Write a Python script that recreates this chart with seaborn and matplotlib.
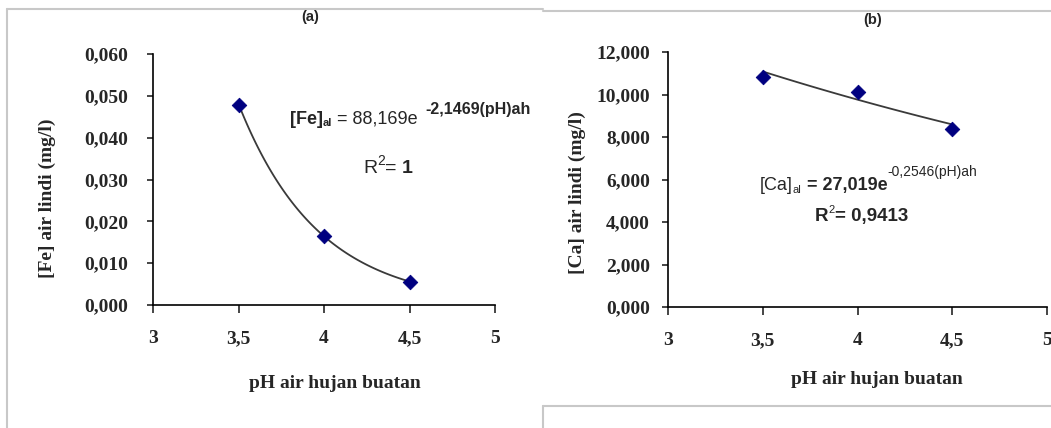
import numpy as np
import pandas as pd
import matplotlib
matplotlib.use("Agg")
import matplotlib.pyplot as plt
from matplotlib.lines import Line2D
from matplotlib.ticker import FuncFormatter
import seaborn as sns

# ── data ─────────────────────────────────────────────────────────────────────
ph = [3.5, 4.0, 4.5]
fe = [0.0478, 0.0165, 0.0056]
ca = [10.82, 10.12, 8.38]

# fitted trend lines as printed on the chart: y = a * exp(b * pH)
fe_fit = (88.169, -2.1469)
ca_fit = (27.019, -0.2546)

W, H = 1051, 428

sns.set_style("white")
plt.rcParams["font.family"] = ["Liberation Serif", "DejaVu Serif"]


def fx(x):
    return x / W


def fy(y):
    return 1 - y / H


fig = plt.figure(figsize=(W / 100, H / 100), dpi=100)
ax1 = fig.add_axes([fx(153), fy(305), fx(495 - 153), (305 - 54) / H])
ax2 = fig.add_axes([fx(668), fy(307), fx(1047 - 668), (307 - 52) / H])


def panel(ax, y, fit, ylim, step, ypad):
    xs = np.linspace(ph[0], ph[-1], 100)
    curve = pd.DataFrame({"x": xs, "y": fit[0] * np.exp(fit[1] * xs)})
    sns.lineplot(data=curve, x="x", y="y", ax=ax, color="#3a3a3a", lw=1.3)
    pts = pd.DataFrame({"x": ph, "y": y})
    sns.scatterplot(data=pts, x="x", y="y", ax=ax, marker="D", s=55,
                    color="#000080", edgecolor="#000080", zorder=3)
    ax.set_xlim(3, 5)
    ax.set_ylim(0, ylim)
    ax.set_xticks([3, 3.5, 4, 4.5, 5])
    ax.set_yticks(np.arange(0, ylim + step / 2, step))
    ax.xaxis.set_major_formatter(FuncFormatter(lambda v, _: ("%g" % v).replace(".", ",")))
    ax.yaxis.set_major_formatter(FuncFormatter(lambda v, _: ("%.3f" % v).replace(".", ",")))
    for s in ["top", "right"]:
        ax.spines[s].set_visible(False)
    for s in ["left", "bottom"]:
        ax.spines[s].set_color("black")
        ax.spines[s].set_linewidth(1.2)
    ax.tick_params(axis="y", direction="out", length=4, width=1.2, pad=ypad,
                   left=True, labelsize=14)
    ax.tick_params(axis="x", direction="out", length=6, width=1.2, pad=12,
                   bottom=True, labelsize=14)
    for lab in ax.get_xticklabels() + ax.get_yticklabels():
        lab.set_fontweight("bold")
    ax.set_xlabel("")
    ax.set_ylabel("")


panel(ax1, fe, fe_fit, 0.06, 0.01, 14)
panel(ax2, ca, ca_fit, 12, 2, 9)

bold = dict(fontweight="bold", fontsize=14)

# axis titles
fig.text(fx(47), fy(198), "[Fe] air lindi (mg/l)", rotation=90,
         ha="center", va="center", **bold)
fig.text(fx(577), fy(193), "[Ca] air lindi (mg/l)", rotation=90,
         ha="center", va="center", **bold)
fig.text(fx(335), fy(383), "pH air hujan buatan", ha="center", va="center", **bold)
fig.text(fx(877), fy(380), "pH air hujan buatan", ha="center", va="center", **bold)

# panel titles
fig.text(fx(310), fy(17), "(a)", ha="center", va="center",
         fontsize=10.5, fontweight="bold", family="Liberation Sans")
fig.text(fx(873), fy(20), "(b)", ha="center", va="center",
         fontsize=10.5, fontweight="bold", family="Liberation Sans")

renderer = fig.canvas.get_renderer()


def chain(x, y, pieces):
    """Write text pieces one after another; each piece is
    (text, size, weight, vertical shift in px)."""
    for txt, size, weight, dy in pieces:
        t = fig.text(fx(x), fy(y + dy), txt, ha="left", va="baseline",
                     fontsize=size, fontweight=weight, family="Liberation Sans")
        x += t.get_window_extent(renderer).width


# trend line equations
chain(290, 124, [("[Fe]", 13, "bold", 0), ("al", 8, "bold", 2),
                 (" = 88,169e", 13, "normal", 0), ("  ", 10, "normal", 0),
                 ("-2,1469(pH)ah", 11.5, "bold", -10)])
chain(363, 173, [("R", 14, "normal", 0), ("2", 10, "normal", -8),
                 ("= ", 14, "normal", 0), ("1", 14, "bold", 0)])

chain(760, 190, [("[Ca]", 13, "normal", 0), ("al", 8, "normal", 3),
                 (" = 27,019e", 13, "bold", 0),
                 ("-0,2546(pH)ah", 10, "normal", -14)])
chain(815, 221, [("R", 13.5, "bold", 0), ("2", 8, "normal", -8),
                 ("= 0,9413", 13.5, "bold", 0)])

# screenshot frames around the two chart objects
frame = dict(color="#c8c8c8", lw=1.5, transform=fig.transFigure)
fig.add_artist(Line2D([fx(7), fx(7)], [fy(9), fy(428)], **frame))
fig.add_artist(Line2D([fx(7), fx(543)], [fy(9), fy(9)], **frame))
fig.add_artist(Line2D([fx(543), fx(1051)], [fy(11), fy(11)], **frame))
fig.add_artist(Line2D([fx(543), fx(1051)], [fy(406), fy(406)], **frame))
fig.add_artist(Line2D([fx(543), fx(543)], [fy(406), fy(428)], **frame))

fig.savefig("out.png", dpi=100)
